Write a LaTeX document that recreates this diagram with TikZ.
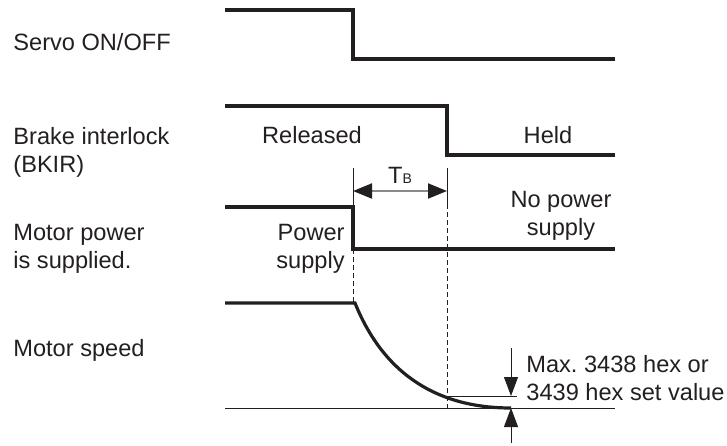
\documentclass[tikz,border=0pt]{standalone}
\usepackage{fontspec}
\setmainfont{Liberation Sans}
\usetikzlibrary{arrows.meta}
\definecolor{ink}{HTML}{231F20}
\definecolor{rule}{HTML}{8A8A8A}
\tikzset{sig/.style={draw=ink,line width=1.6pt,line join=miter},fine/.style={draw=ink,line width=0.5pt},guide/.style={draw=ink,line width=0.45pt,dash pattern=on 2.5pt off 1.5pt},lbl/.style={inner sep=0pt,text=ink},span/.style={draw=rule,line width=1pt,{Triangle[length=9.5pt,width=7.5pt,color=ink]}-{Triangle[length=9.5pt,width=7.5pt,color=ink]}},marker/.style={fine,-{Triangle[length=9.5pt,width=7pt,color=ink]}}}

\begin{document}
\begin{tikzpicture}[x=0.5pt,y=-0.5pt,font=\fontsize{11.8pt}{14pt}\selectfont]
\useasboundingbox (0,0) rectangle (727,445);
% row labels (two-line nodes sit on the baseline of their last line)
\node[lbl,anchor=base west](servo)at(13,50){Servo ON/OFF};\node[lbl,anchor=base west,align=left](brake)at(13,172){Brake interlock\\(BKIR)};
\node[lbl,anchor=base west,align=left](mpow)at(13,268){Motor power\\is supplied.};\node[lbl,anchor=base west](mspd)at(13,356){Motor speed};
% state labels
\node[lbl,anchor=base](rel)at(312,143){Released};\node[lbl,anchor=base](held)at(548,143){Held};
\node[lbl,anchor=base east,align=right](psup)at(345,268){Power\\supply};\node[lbl,anchor=base,align=center](nosup)at(561,235){No power\\supply};
\node[lbl,anchor=base west,align=left](maxv)at(526,400){Max.\ 3438 hex or\\3439 hex set value};
\node[lbl,anchor=base](tbl)at(400,183){T{\fontsize{7pt}{8pt}\selectfont B}};
% signals
\draw[sig](225,10)--(353,10)--(353,59)--(615,59);\draw[sig](225,106)--(447,106)--(447,155)--(615,155);
\draw[sig](225,207)--(353,207)--(353,249)--(615,249);
\coordinate(v0)at(355,303);\coordinate(v1)at(511,408);
\draw[sig](225,303)--(v0).. controls (385,377.4) and (441,408) ..(v1);
\draw[fine](225,408)--(615,408);\draw[fine](447,396)--(517,396);
% timing guides
\coordinate(ga)at(353,168);\coordinate(gb)at(447,168);
\draw[fine](ga)--(353,207);\draw[fine](gb)--(447,204);
\draw[guide](353,249)--(353,303);\draw[guide](447,204)--(447,408);
\draw[span](353,191)--(447,191);
% deviation markers
\coordinate(m0)at(511,348);\coordinate(m1)at(511,396);\coordinate(m2)at(511,443);
\draw[marker](m0)--(m1);\draw[marker](m2)--(v1);
\end{tikzpicture}
\end{document}
